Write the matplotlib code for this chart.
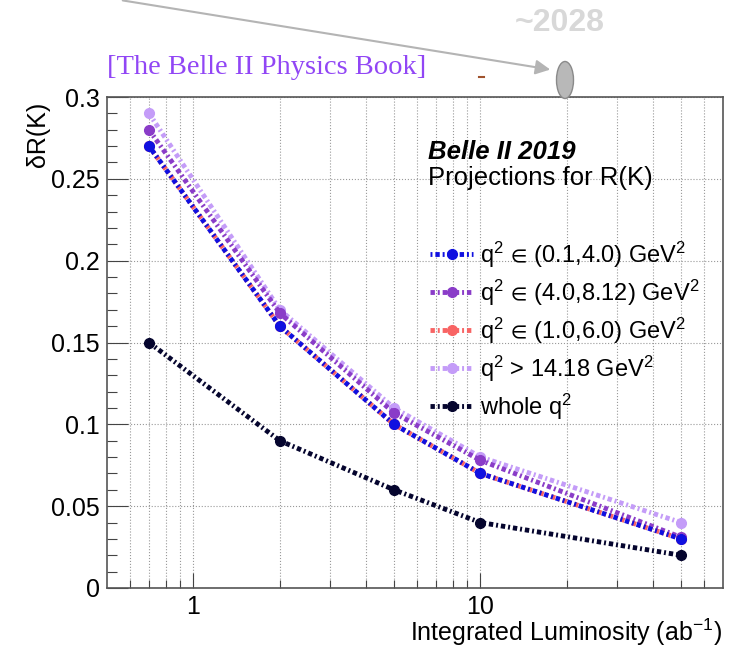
import matplotlib
matplotlib.use('Agg')
import matplotlib.pyplot as plt
from matplotlib.patches import Ellipse, FancyArrowPatch
from matplotlib.lines import Line2D
from matplotlib.ticker import FixedLocator, NullFormatter, MultipleLocator, FuncFormatter

plt.rcParams['font.family'] = ['Liberation Sans', 'DejaVu Sans']
plt.rcParams['mathtext.fontset'] = 'custom'
plt.rcParams['mathtext.rm'] = 'Liberation Sans'
plt.rcParams['mathtext.it'] = 'Liberation Sans:italic'
plt.rcParams['mathtext.bf'] = 'Liberation Sans:bold'
plt.rcParams['mathtext.fallback'] = 'stixsans'

# luminosity points (ab^-1)
lumi = [0.7, 2, 5, 10, 50]

# dR(K) projections per q^2 bin
r_low = [0.27, 0.16, 0.10, 0.07, 0.03]
r_mid = [0.28, 0.168, 0.107, 0.078, 0.031]
r_central = [0.27, 0.16, 0.10, 0.07, 0.03]
r_high = [0.29, 0.17, 0.11, 0.08, 0.04]
r_whole = [0.15, 0.09, 0.06, 0.04, 0.02]

labels = [r'q$^2$ $\!\in\!$ (0.1,4.0) GeV$^2$',
          r'q$^2$ $\!\in\!$ (4.0,8.12) GeV$^2$',
          r'q$^2$ $\!\in\!$ (1.0,6.0) GeV$^2$',
          r'q$^2$ > 14.18 GeV$^2$',
          r'whole q$^2$']
colors = ['#1010e0', '#8a3cc8', '#f86464', '#c49cf8', '#05052e']

fig = plt.figure(figsize=(7.36, 6.49), dpi=100)
ax = fig.add_axes([0.1454, 0.094, 0.8369, 0.7565])

series = [r_low, r_mid, r_central, r_high, r_whole]
order = [3, 1, 2, 0, 4]
handles = {}
for i in order:
    offset = 1.5 if i == 0 else 0
    ln, = ax.plot(lumi, series[i], color=colors[i], lw=3.5,
                  linestyle=(offset, (0.9, 0.6, 0.4, 0.6)),
                  marker='o', ms=7, mec=colors[i], mfc=colors[i],
                  label=labels[i])
    handles[i] = ln

ax.set_xscale('log')
ax.set_xlim(0.5, 70)
ax.set_ylim(0, 0.3)

ax.xaxis.set_major_locator(FixedLocator([1, 10]))
ax.xaxis.set_major_formatter(FuncFormatter(lambda v, p: '%g' % v))
minors = [0.6, 0.7, 0.8, 0.9, 2, 3, 4, 5, 6, 7, 8, 9, 20, 30, 40, 50, 60]
ax.xaxis.set_minor_locator(FixedLocator(minors))
ax.xaxis.set_minor_formatter(NullFormatter())
ax.yaxis.set_major_locator(MultipleLocator(0.05))
ax.yaxis.set_minor_locator(MultipleLocator(0.01))
ax.yaxis.set_major_formatter(FuncFormatter(lambda v, p: '%g' % round(v, 3)))

ax.tick_params(axis='both', which='both', direction='in', width=0.8,
               color='#444444', labelsize=18, top=False, right=False)
ax.tick_params(axis='y', which='major', length=15, pad=5)
ax.tick_params(axis='y', which='minor', length=7)
ax.tick_params(axis='x', which='major', length=11, pad=5)
ax.tick_params(axis='x', which='minor', length=6)

ax.grid(True, which='major', axis='both', linestyle=':', color='#999999', lw=0.8)
ax.grid(True, which='minor', axis='x', linestyle=':', color='#999999', lw=0.8)
ax.set_axisbelow(True)
for s in ax.spines.values():
    s.set_color('#555555')
    s.set_linewidth(1.2)

ax.text(0.521, 0.888, 'Belle II 2019', transform=ax.transAxes,
        fontsize=18.5, fontweight='bold', fontstyle='italic', va='center')
ax.text(0.521, 0.835, 'Projections for R(K)', transform=ax.transAxes,
        fontsize=18.5, va='center')

leg = ax.legend(handles=[handles[i] for i in range(5)], loc='upper left',
                bbox_to_anchor=(0.525, 0.71), frameon=False, fontsize=17,
                numpoints=1, handlelength=1.8, handletextpad=0.3,
                labelspacing=0.33, borderpad=0, borderaxespad=0)

fig.text(38 / 736, 1 - 134 / 649, 'δR(K)', rotation=90, fontsize=18,
         ha='center', va='center')
fig.text(722 / 736, 1 - 632 / 649, 'Integrated Luminosity (ab$^{-1}$)',
         fontsize=18, ha='right', va='center')

# overlay from the slide
fig.text(107 / 736, 1 - 67 / 649, '[The Belle II Physics Book]',
         family='Liberation Serif', color='#9146f5', fontsize=20.5, va='center')
fig.text(515 / 736, 1 - 23 / 649, '~2028', color='#d8d8d8', fontsize=23,
         fontweight='bold', va='center')
arrow = FancyArrowPatch((120 / 736, 1.0), (553 / 736, 1 - 70 / 649),
                        transform=fig.transFigure, arrowstyle='-|>',
                        mutation_scale=22, color='#b4b4b4', lw=1.5)
fig.add_artist(arrow)
fig.add_artist(Ellipse((565 / 736, 1 - 80 / 649), 17 / 736, 37 / 649,
                       transform=fig.transFigure, facecolor='#b8b8b8',
                       edgecolor='#8a8a8a', lw=1))
fig.add_artist(Line2D([479 / 736, 484 / 736], [1 - 77 / 649, 1 - 77 / 649],
                      transform=fig.transFigure, color='#a0522d', lw=1.5))

fig.savefig('out.png', dpi=100)
